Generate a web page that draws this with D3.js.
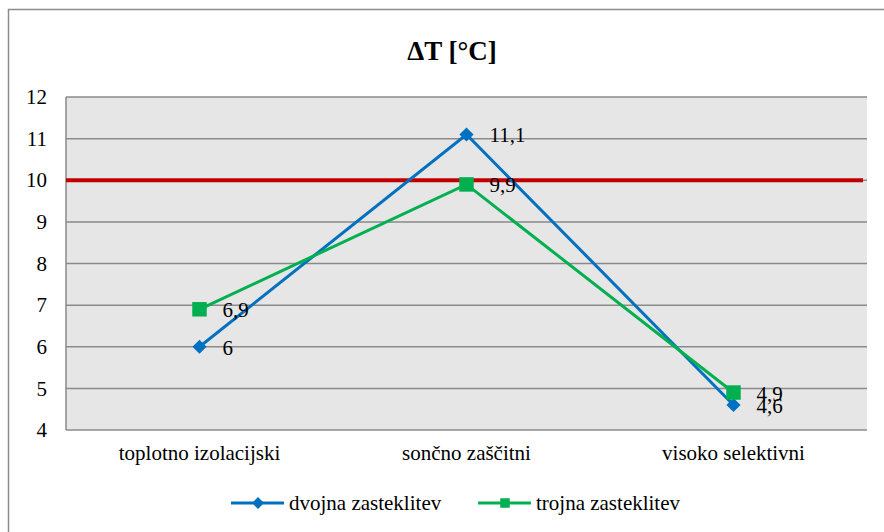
<!DOCTYPE html>
<html>
<head>
<meta charset="utf-8">
<script src="https://cdn.jsdelivr.net/npm/d3@7"></script>
<style>
  body { margin: 0; background: #fff; }
</style>
</head>
<body>
<div id="chart"></div>
<script>
const categories = ['toplotno izolacijski', 'sončno zaščitni', 'visoko selektivni'];
const dvojna = [6, 11.1, 4.6];
const trojna = [6.9, 9.9, 4.9];
const seriesNames = ['dvojna zasteklitev', 'trojna zasteklitev'];
const yTicks = [4, 5, 6, 7, 8, 9, 10, 11, 12];
const limit = 10;

const serif = 'Liberation Serif';
const fs = 21;

const svg = d3.select('#chart').append('svg')
  .attr('width', 884)
  .attr('height', 532)
  .attr('font-family', serif);

// outer frame
svg.append('rect')
  .attr('x', 8.5).attr('y', 9.5)
  .attr('width', 890).attr('height', 540)
  .attr('fill', '#fff')
  .attr('stroke', '#8c8c8c')
  .attr('stroke-width', 1.5);

const margin = { top: 97, left: 66, right: 17, bottom: 102 };
const width = 884 - margin.left - margin.right;
const height = 532 - margin.top - margin.bottom;

svg.append('text')
  .attr('x', 452).attr('y', 60)
  .attr('text-anchor', 'middle')
  .attr('font-size', 27)
  .attr('font-weight', 'bold')
  .attr('font-family', serif)
  .text('ΔT [°C]');

const g = svg.append('g')
  .attr('transform', `translate(${margin.left},${margin.top})`);

const x = d3.scaleBand().domain(categories).range([0, width]);
const y = d3.scaleLinear().domain([4, 12]).range([height, 0]);
const cx = d => x(d) + x.bandwidth() / 2;

g.append('rect')
  .attr('width', width).attr('height', height)
  .attr('fill', '#e6e6e6');

// gridlines
g.selectAll('.grid')
  .data(yTicks)
  .enter().append('line')
  .attr('class', 'grid')
  .attr('x1', 0).attr('x2', width)
  .attr('y1', d => y(d)).attr('y2', d => y(d))
  .attr('stroke', '#8a8a8a')
  .attr('stroke-width', 1.5);

g.append('line')
  .attr('x1', 0).attr('x2', 0)
  .attr('y1', 0).attr('y2', height)
  .attr('stroke', '#8a8a8a')
  .attr('stroke-width', 1.5);

// y axis labels
g.append('g')
  .call(d3.axisLeft(y).tickValues(yTicks).tickSize(0).tickPadding(19))
  .attr('font-family', serif)
  .attr('font-size', fs)
  .call(a => a.select('.domain').remove())
  .selectAll('text')
  .attr('fill', '#000');

// x axis labels
g.append('g')
  .attr('transform', `translate(0,${height})`)
  .call(d3.axisBottom(x).tickSize(0).tickPadding(15))
  .attr('font-family', serif)
  .attr('font-size', fs)
  .call(a => a.select('.domain').remove())
  .selectAll('text')
  .attr('fill', '#000');

// threshold line
g.append('line')
  .attr('x1', 0).attr('x2', width - 4)
  .attr('y1', y(limit)).attr('y2', y(limit))
  .attr('stroke', '#c00000')
  .attr('stroke-width', 4);

const line = d3.line()
  .x((d, i) => cx(categories[i]))
  .y(d => y(d));

const series = [
  { name: seriesNames[0], values: dvojna, color: '#0070c0', size: 100, lsize: 70, rot: 45 },
  { name: seriesNames[1], values: trojna, color: '#00b050', size: 210, lsize: 90, rot: 0 }
];

series.forEach(s => {
  g.append('path')
    .datum(s.values)
    .attr('d', line)
    .attr('fill', 'none')
    .attr('stroke', s.color)
    .attr('stroke-width', 3);

  g.selectAll(null)
    .data(s.values)
    .enter().append('path')
    .attr('d', d3.symbol().type(d3.symbolSquare).size(s.size))
    .attr('transform', (d, i) => `translate(${cx(categories[i])},${y(d)}) rotate(${s.rot})`)
    .attr('fill', s.color);

  g.selectAll(null)
    .data(s.values)
    .enter().append('text')
    .attr('x', (d, i) => cx(categories[i]) + 23)
    .attr('y', d => y(d) + 8)
    .attr('font-size', fs)
    .attr('font-family', serif)
    .text(d => String(d).replace('.', ','));
});

// legend
const legendX = [231, 478];
const legend = svg.append('g').attr('transform', 'translate(0,503)');
series.forEach((s, i) => {
  const lg = legend.append('g').attr('transform', `translate(${legendX[i]},0)`);
  lg.append('line')
    .attr('x1', 0).attr('x2', 53)
    .attr('stroke', s.color)
    .attr('stroke-width', 3);
  lg.append('path')
    .attr('d', d3.symbol().type(d3.symbolSquare).size(s.lsize))
    .attr('transform', `translate(27,0) rotate(${s.rot})`)
    .attr('fill', s.color);
  lg.append('text')
    .attr('x', 58)
    .attr('y', 7)
    .attr('font-size', fs)
    .attr('font-family', serif)
    .text(s.name);
});
</script>
</body>
</html>
